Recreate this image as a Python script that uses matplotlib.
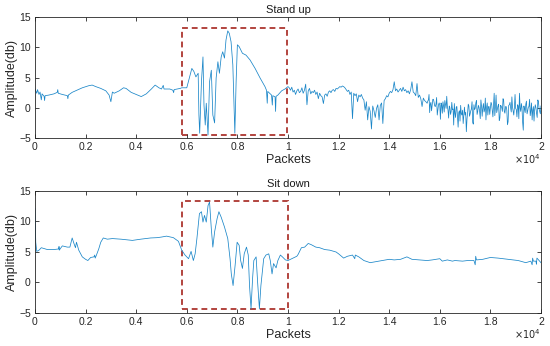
import numpy as np
import matplotlib.pyplot as plt
from matplotlib.patches import Rectangle
from matplotlib.ticker import FuncFormatter

plt.rcParams['font.family'] = ['Liberation Sans', 'DejaVu Sans']

# ---- Stand up (packets, amplitude in db) ----
stand_calm_x = [0, 50, 70, 100, 160, 200, 250, 280, 360, 380, 400, 550, 750, 880, 900, 920,
                1080, 1280, 1300, 1320, 1470, 1600, 1870, 2130, 2260, 2400, 2600, 2800, 2930,
                3000, 3030, 3060, 3130, 3330, 3500, 3600, 3800, 4000, 4200, 4400, 4600, 4750,
                4900, 5000, 5070, 5100, 5330, 5450, 5480, 5500, 5740]
stand_calm_y = [3.1, 2.6, 2.4, 3.0, 2.2, 2.6, 1.3, 2.3, 1.9, 1.2, 2.0, 2.1, 2.3, 2.55, 3.0, 2.4,
                2.2, 2.0, 1.5, 2.1, 2.55, 2.8, 3.3, 3.65, 3.75, 3.5, 3.2, 2.8, 2.1,
                1.0, 1.8, 2.6, 2.4, 2.8, 3.3, 3.2, 2.55, 2.2, 1.85, 2.3, 3.1, 3.75,
                3.3, 3.1, 3.7, 3.1, 3.1, 2.9, 2.5, 3.0, 3.2]

stand_event_x = [5800, 6000, 6100, 6200, 6280, 6360, 6450, 6480, 6510, 6560, 6580, 6640, 6680,
                 6730, 6770, 6840, 6900, 6970, 7030, 7100, 7160, 7230, 7290, 7360, 7420, 7490,
                 7550, 7620, 7680, 7750, 7820, 7860, 7900, 7950, 8000, 8070, 8200, 8340, 8500,
                 8700, 8900, 9090, 9150, 9180, 9200, 9350, 9380, 9400, 9490, 9510, 9530, 9600,
                 9750, 9880]
stand_event_y = [3.3, 3.3, 4.9, 6.5, 6.0, 5.1, 5.7, -1.2, -4.2, 2.0, 4.3, 8.4, 0.45,
                 -2.85, 0.75, -4.5, 4.3, 6.2, -1.2, -2.5, 4.9, 7.6, 5.7, 8.4, 9.25, 8.2,
                 11.2, 12.7, 12.3, 10.9, 7.1, 1.6, -4.2, 4.3, 10.4, 10.1, 9.0, 8.7, 7.9,
                 6.5, 4.9, 3.5, 2.9, 0.75, 2.7, 2.1, 0.45, 2.0, 1.8, -0.6, 1.9, 2.1,
                 2.8, 3.1]

# noisy tail, one value every 50 packets from 10000 to 20000
stand_noisy_y = [
    3.5, 3.3, 2.9, 3.4, 2.6, 2.9, 2.2, 2.8, 3.1, 2.5, 2.7, 3.3, 2.4, 2.9, 3.9, 0.5, 2.8, 3.2, 2.3, 2.7,
    2.5, 2.9, 2.2, 2.6, 1.5, 2.4, 2.0, 1.8, 0.7, 2.1, 2.3, 1.9, 2.6, 2.8, 2.5, 2.9, 3.0, 2.7, 3.2, 3.1,
    3.3, 3.5, 3.4, 3.6, 3.5, 3.3, 3.0, 2.7, 2.9, 2.2, 2.6, -1.8, 2.4, 2.0, 2.3, 1.0, 2.1, 1.8, 2.2, 1.6,
    1.3, -0.4, 1.0, -2.0, 0.2, -0.6, -3.5, 0.3, -0.5, -1.6, -0.1, 0.5, -2.0, 0.4, 0.8, -2.6, 1.2, 1.5, 2.0, 1.8,
    2.4, 2.7, 2.5, 3.0, 4.3, 2.8, 3.1, 2.6, 2.9, 3.2, 2.7, 3.4, 2.8, 3.0, 2.5, 2.8, 2.3, 3.0, 4.3, 2.6,
    2.4, 2.0, 4.0, 1.7, 2.1, 1.5, 0.2, 1.6, 1.2, 1.0, 0.75, 1.3, -0.8, 0.9, 0.5, 1.4, 0.3, 0.6, -1.2, 0.5,
    0.45, 0.8, -0.9, 0.3, 1.2, -0.1, 0.2, -1.7, 0.0, -0.6, -0.3, -2.85, -0.9, 0.1, -1.5, -0.8, -2.2, -1.0, -0.4, -1.3,
    -1.2, -3.95, -0.8, 0.3, -1.0, -0.2, -2.4, 0.5, -0.1, 1.2, -0.6, 0.1, -1.8, 0.3, 0.0, -0.7, 1.6, 0.1, -1.2, 0.2,
    0.0, 0.6, -1.5, 2.4, 0.1, -0.8, 0.3, -2.1, 0.4, 0.0, 1.5, -0.6, 0.2, -0.4, -2.3, 0.5, 0.0, 1.8, -0.5, 0.1,
    -0.1, -1.5, 0.3, 2.4, -0.6, 0.0, -3.7, -0.2, 0.6, -1.0, 0.1, 1.4, -0.5, -2.0, 0.2, -0.3, 0.0, -1.6, 1.0, -0.6, 0.3]
stand_noisy_x = list(range(10000, 20001, 50))

# extra values in between for the densest part (15525 .. 19975)
stand_dense_y = [
    1.1, 2.2, 0.6, -0.5, 1.4, 0.9, 0.2, 1.7, -0.3, 0.8, -1.9, 0.4, 1.0, -0.7, 0.6, 1.9, -0.4, 0.3, -1.1, 0.9,
    -0.2, 0.7, -1.6, 0.2, -3.2, -0.5, 0.4, -1.2, -2.6, 0.1, -0.8, -1.9, 0.6, -1.4, -0.5, 1.0, -2.7, -0.3, 0.8, -1.1,
    0.4, -0.6, 1.3, -1.4, 0.7, -0.3, -2.0, 0.8, 0.2, -1.1, 0.9, -0.4, 0.5, -1.3, 2.1, -0.2, 0.6, -1.7, 0.3, -0.6,
    1.2, -0.9, 0.2, -2.8, 0.4, 0.9, -0.7, 0.1, -1.2, 2.2, -0.3, 0.5, -1.8, 0.0, 0.7, -2.4, 0.3, -0.8, 1.1, -0.5,
    0.2, -1.3, 0.8, -0.4, -2.2, 0.5, -0.9, 1.3, -0.2, -1.0]
stand_dense_x = list(range(15525, 20000, 50))

# ---- Sit down ----
sit_calm_x = [0, 15, 30, 70, 160, 250, 490, 750, 940, 950, 960, 1080, 1280, 1380, 1470, 1540,
              1600, 1640, 1730, 1870, 2000, 2090, 2200, 2330, 2360, 2380, 2430, 2520, 2600,
              2700, 2860, 3060, 3400, 3850, 4180, 4570, 4830, 5000, 5200, 5470, 5670]
sit_calm_y = [12.1, 9.0, 6.6, 5.1, 5.3, 5.7, 5.4, 5.4, 5.5, 5.9, 5.3, 6.0, 5.8, 5.8, 7.3, 6.4,
              5.7, 6.6, 5.3, 4.2, 3.8, 3.6, 4.1, 4.2, 4.5, 4.0, 4.5, 5.5, 6.6,
              7.3, 7.1, 7.2, 7.1, 6.9, 7.1, 7.3, 7.35, 7.45, 7.6, 7.35, 6.75]

sit_event_x = [5800, 5930, 6070, 6170, 6260, 6330, 6400, 6500, 6580, 6640, 6700, 6770, 6840,
               6900, 6970, 7030, 7100, 7200, 7270, 7360, 7490, 7620, 7710, 7760, 7830, 7910,
               7990, 8070, 8130, 8200, 8270, 8360, 8430, 8480, 8540, 8600, 8650, 8740, 8800,
               8870, 8930, 9040, 9130, 9240, 9300, 9370, 9430, 9530, 9600, 9700, 9780, 9900]
sit_event_y = [5.3, 4.5, 3.9, 5.1, 3.6, 4.7, 7.2, 11.3, 11.6, 9.9, 11.0, 9.9, 12.6,
               13.2, 8.8, 5.8, 8.3, 10.5, 11.6, 10.7, 9.1, 7.2, 3.9, 1.4, -0.5, 2.8,
               6.6, 6.1, 3.6, 2.3, 4.7, 5.8, 4.5, -0.5, -4.3, 0.6, 3.6, 4.2, 0.05,
               -4.3, -0.5, 3.9, 4.5, 4.7, 3.6, 1.4, 3.1, 2.4, 3.6, 4.5, 4.2, 3.7]

sit_tail_x = [10000, 10200, 10350, 10400, 10530, 10660, 10800, 10920, 11100, 11250, 11450,
              11650, 11900, 12000, 12200, 12350, 12550, 12640, 12660, 12800, 13000, 13250,
              13450, 13700, 14000, 14200, 14450, 14700, 14900, 15200, 15500, 15700, 16000,
              16100, 16300, 16500, 16600, 16900, 17100, 17350, 17400, 17420, 17450, 17700,
              18000, 18300, 18700, 19100, 19400, 19600, 19650, 19670, 19700, 19800, 19820,
              19840, 20000]
sit_tail_y = [3.6, 4.0, 4.3, 4.6, 5.7, 5.8, 6.4, 6.2, 5.8, 5.7, 5.4,
              5.3, 5.0, 4.7, 4.0, 4.3, 4.5, 3.9, 4.5, 4.2, 3.6, 3.25,
              3.4, 3.6, 3.8, 3.7, 3.8, 4.2, 3.8, 3.7, 3.6, 3.7, 3.9,
              3.5, 3.7, 3.5, 3.6, 3.5, 3.6, 3.6, 2.9, 4.3, 3.7, 3.8,
              4.1, 4.0, 3.8, 3.6, 3.25, 3.5, 2.9, 4.0, 3.5, 3.5, 3.0,
              4.0, 3.25]

titles = ['Stand up', 'Sit down']
box_x = [5800, 5800]
box_w = [4150, 4200]
box_y = [-4.5, -4.3]
box_h = [17.7, 17.6]

sx = np.array(stand_calm_x + stand_event_x + stand_noisy_x + stand_dense_x)
sy = np.array(stand_calm_y + stand_event_y + stand_noisy_y + stand_dense_y)
order = np.argsort(sx, kind='stable')

series = [
    (sx[order], sy[order]),
    (sit_calm_x + sit_event_x + sit_tail_x, sit_calm_y + sit_event_y + sit_tail_y),
]

fig = plt.figure(figsize=(5.5, 3.46), dpi=100)
positions = [[0.0636, 0.601, 0.92, 0.350], [0.0636, 0.0954, 0.92, 0.3526]]

for i in range(2):
    ax = fig.add_axes(positions[i])
    x, y = series[i]
    ax.plot(x, y, color='#1a86c8', lw=0.55)
    ax.add_patch(Rectangle((box_x[i], box_y[i]), box_w[i], box_h[i], fill=False,
                           edgecolor='#B2443E', lw=1.4, ls=(0, (3, 2))))
    ax.set_xlim(0, 20000)
    ax.set_ylim(-5, 15)
    ax.set_xticks(np.arange(0, 20001, 2000))
    ax.set_yticks([-5, 0, 5, 10, 15])
    ax.xaxis.set_major_formatter(FuncFormatter(lambda v, p: f'{v / 1e4:g}'))
    ax.tick_params(direction='in', top=True, right=True, length=3, width=0.6,
                   labelsize=7.5, colors='#262626', pad=3)
    for s in ax.spines.values():
        s.set_color('#262626')
        s.set_linewidth(0.6)
    ax.set_title(titles[i], fontsize=8, pad=3, color='#1a1a1a')
    ax.set_xlabel('Packets', fontsize=9, labelpad=1, color='#262626')
    ax.set_ylabel('Amplitude(db)', fontsize=9, labelpad=1, color='#262626')
    ax.text(1.0, -0.12, r'$\times10^4$', transform=ax.transAxes, ha='right', va='top',
            fontsize=7, color='#262626')

fig.savefig('out.png', dpi=100)
